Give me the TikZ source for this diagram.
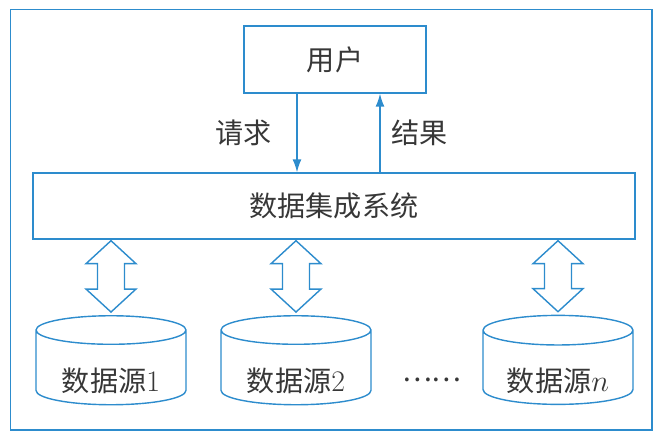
\documentclass[tikz,border=0pt]{standalone}
\usepackage{fontspec}
\newfontfamily\cjk{Noto Sans CJK SC}
\usepackage{xcolor}
\usetikzlibrary{calc, shapes.geometric, positioning, arrows.meta}
\definecolor{lineblue}{RGB}{45,140,205}
\definecolor{textgray}{RGB}{55,55,55}

\begin{document}
\begin{tikzpicture}[x=0.02cm, y=-0.02cm, >={Latex[length=2.6mm, width=1.8mm]},
    box/.style={draw=lineblue, line width=0.8pt, text=textgray, font=\cjk\fontsize{16}{19}\selectfont},
    dbnode/.style={draw=lineblue, line width=0.8pt, text=textgray, font=\fontsize{17}{19}\selectfont,
        cylinder, shape border rotate=90, aspect=0.26,
        minimum width=3cm, minimum height=1.78cm},
    dblarrow/.style={draw=lineblue, line width=0.8pt, fill=white},
    lbl/.style={text=textgray, font=\cjk\fontsize{16}{19}\selectfont}]
    \useasboundingbox (0,0) rectangle (664,438);
    % 1. Khung ngoài
    \draw[lineblue, line width=0.8pt] (10.5,9.5) rectangle (652,430);

    % 2. Các khối
    \node[box, minimum width=3.64cm, minimum height=1.34cm] (user) at (335,59.5) {用户};
    \node[box, minimum width=12.04cm, minimum height=1.32cm] (sys) at (334,206) {数据集成系统};
    \node[dbnode] (s1) at (111,370.5) {\raisebox{-0.43cm}[0pt][0pt]{{\cjk\fontsize{16}{19}\selectfont 数据源}1}};
    \node[dbnode] (s2) at (296,370.5) {\raisebox{-0.43cm}[0pt][0pt]{{\cjk\fontsize{16}{19}\selectfont 数据源}2}};
    \node[dbnode] (sn) at (558,370.5) {\raisebox{-0.43cm}[0pt][0pt]{{\cjk\fontsize{16}{19}\selectfont 数据源}$n$}};
    \node[lbl] (dots) at (432,380) {……};

    % 3. Yêu cầu và kết quả
    \coordinate (req) at (297,0);
    \coordinate (res) at (380,0);
    \draw[->, lineblue, line width=0.8pt] (user.south -| req) -- (sys.north -| req)
        node[lbl, midway, left=3.8mm] {请求};
    \draw[->, lineblue, line width=0.8pt] (sys.north -| res) -- (user.south -| res)
        node[lbl, midway, right=1mm] {结果};

    % 4. Mũi tên hai chiều
    \foreach \s in {s1,s2,sn} {
        \draw[dblarrow] ($(sys.south -| \s.north)+(0,1)$) -- ++(25,23) -- ++(-11.5,0)
            -- ($(\s.north)+(13.5,-26)$) -- ++(11.5,0) -- ($(\s.north)+(0,-3)$)
            -- ++(-25,-23) -- ++(11.5,0) -- ($(sys.south -| \s.north)+(-13.5,24)$)
            -- ++(-11.5,0) -- cycle;
    }
\end{tikzpicture}
\end{document}
